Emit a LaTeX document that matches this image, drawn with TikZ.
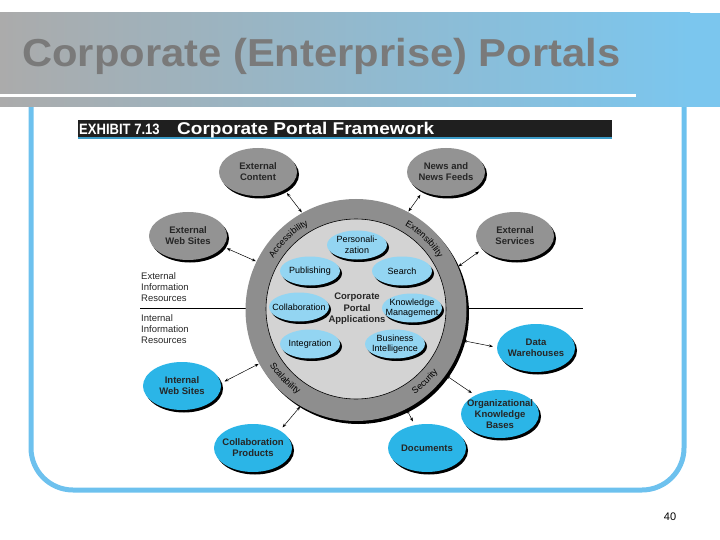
\documentclass[tikz,border=0pt]{standalone}
\usepackage{fontspec}
\setmainfont{Liberation Sans}
\usetikzlibrary{shapes.geometric,arrows.meta,decorations.text,shadows,positioning}
\definecolor{bandgray}{HTML}{ABABAB}
\definecolor{bandblue}{HTML}{7BC6EE}
\definecolor{framecol}{HTML}{6DC1EE}
\definecolor{titlegray}{HTML}{7A7A7A}
\definecolor{ringgray}{HTML}{8E8E8E}
\definecolor{coregray}{HTML}{D3D3D3}
\definecolor{resgray}{HTML}{939393}
\definecolor{resblue}{HTML}{2BB5E7}
\definecolor{appblue}{HTML}{93D5F2}
\definecolor{barline}{HTML}{3C9CC8}
\newcommand{\pxfont}[2]{\fontsize{#1}{#2}\selectfont}

\begin{document}
\begin{tikzpicture}[
  x=1pt, y=1pt,
  >={Stealth[length=4pt,width=3pt]},
  shadowed/.style={drop shadow={shadow xshift=2pt, shadow yshift=-2.5pt, fill=black, opacity=1}},
  extres/.style={ellipse, fill=resgray, minimum width=78pt, minimum height=48pt, inner xsep=-8pt, inner ysep=-4pt, align=center, font=\pxfont{9.5}{11}\bfseries, text=black!85, shadowed},
  intres/.style={extres, fill=resblue},
  app/.style={ellipse, fill=appblue, minimum width=60pt, minimum height=29pt, inner xsep=-6pt, inner ysep=-4pt, align=center, font=\pxfont{9}{10.5}, shadowed},
  infolbl/.style={anchor=west, align=left, inner sep=0pt, font=\pxfont{9.5}{11}, text=black!85},
  biarrow/.style={<->, line width=0.5pt, shorten <=4pt, shorten >=0.5pt},
  ringlbl/.style={decorate, decoration={text along path, text align=center, text={#1}}}
]
\useasboundingbox (0,0) rectangle (720,-540);

% Slide frame and title band
\draw[framecol, line width=5pt, rounded corners=42pt] (31,-60) -- (31,-490) -- (684,-490) -- (684,-60);
\shade[left color=bandgray, right color=bandblue] (0,-13) rectangle (690,-107);
\fill[bandblue] (690,-13) rectangle (720,-107);
\fill[white] (0,-94.5) rectangle (636,-97.5);
\node[anchor=base west, inner sep=0pt, text=titlegray, font=\pxfont{39}{39}\bfseries] (title) at (22,-67) {\scalebox{1.07}[1]{Corporate (Enterprise) Portals}};

% Exhibit header
\fill[black!88] (78,-120) rectangle (612,-137);
\fill[barline] (78,-137) rectangle (612,-139.5);
\node[anchor=base west, inner sep=0pt, text=white, font=\pxfont{15}{15}\bfseries] (exno) at (79,-135) {\scalebox{0.87}[1]{EXHIBIT 7.13}};
\node[anchor=base west, inner sep=0pt, text=white, font=\pxfont{17}{17}\bfseries] (exname) at (177,-135) {\scalebox{1.12}[1]{Corporate Portal Framework}};

% Divider between external and internal resources
\coordinate (divL) at (140,-308);
\coordinate (divR) at (583,-308);
\draw[line width=0.8pt] (divL) -- (divR);
\node[infolbl] (extinfo) at (141,-287) {External\\Information\\Resources};
\node[infolbl] (intinfo) at (141,-329) {Internal\\Information\\Resources};

% Portal ring
\node[ellipse, fill=ringgray, minimum width=221pt, minimum height=222pt, inner sep=0pt,
  drop shadow={shadow xshift=2.5pt, shadow yshift=-3pt, fill=black, opacity=1}] (ring) at (356,-310) {};
\node[ellipse, fill=coregray, draw=black, line width=0.6pt, minimum width=180pt, minimum height=180pt, inner sep=0pt] (core) at (356,-309) {};
\path[ringlbl={|\pxfont{9}{9}|Accessibility}] (ring.center) ++(150:97.5pt) arc[start angle=150, end angle=117, radius=97.5pt];
\path[ringlbl={|\pxfont{9}{9}|Extensibility}] (ring.center) ++(63:97.5pt) arc[start angle=63, end angle=29, radius=97.5pt];
\path[ringlbl={|\pxfont{9}{9}|Scalability}] (ring.center) ++(207:102.5pt) arc[start angle=207, end angle=241, radius=102.5pt];
\path[ringlbl={|\pxfont{9}{9}|Security}] (ring.center) ++(300:102.5pt) arc[start angle=300, end angle=328, radius=102.5pt];

% Portal applications
\node[app] (pers) at (357,-245) {Personali-\\zation};
\node[app] (publ) at (310,-271) {Publishing};
\node[app] (search) at (402,-271) {Search};
\node[app] (collab) at (299,-307) {Collaboration};
\node[app] (knowm) at (412,-308) {Knowledge\\Management};
\node[app] (integ) at (310,-344) {Integration};
\node[app] (busint) at (395,-344) {Business\\Intelligence};
\node[align=center, font=\pxfont{9.5}{11.5}\bfseries, text=black!85] (cpa) at (357,-309) {Corporate\\Portal\\Applications};

% External resources (gray)
\node[extres] (extc) at (258,-172) {External\\Content};
\node[extres] (news) at (446,-172) {News and\\News Feeds};
\node[extres] (extweb) at (188,-236) {External\\Web Sites};
\node[extres] (extserv) at (515,-236) {External\\Services};

% Internal resources (blue)
\node[intres] (datawh) at (536,-348) {Data\\Warehouses};
\node[intres] (intweb) at (182,-386) {Internal\\Web Sites};
\node[intres] (orgkb) at (500,-414) {Organizational\\Knowledge\\Bases};
\node[intres] (collprod) at (253,-448) {Collaboration\\Products};
\node[intres] (docs) at (427,-448) {Documents};

% Arrows - resources to portal
\draw[biarrow] (extc.-34) -- (ring.119);
\draw[biarrow] (news.220) -- (ring.62);
\draw[biarrow] (extweb.-17) -- (ring.154);
\draw[biarrow] (extserv.202) -- (ring.23);
\draw[biarrow] (datawh.179) -- (ring.-16);
\draw[biarrow] (orgkb.143) -- (ring.-36);
\draw[biarrow] (docs.118) -- (ring.-63);
\draw[biarrow] (collprod.33) -- (ring.240);
\draw[biarrow] (intweb.4) -- (ring.209);

% Page number
\node[font=\pxfont{11}{11}] (pgno) at (670,-517) {40};

\end{tikzpicture}
\end{document}
